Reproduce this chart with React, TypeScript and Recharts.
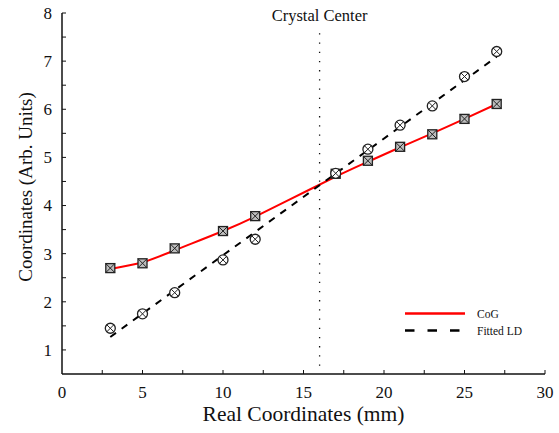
import React from 'react';
import { ComposedChart, Line, Scatter, XAxis, YAxis, ReferenceLine, Legend, Label } from 'recharts';

const SERIF = 'Liberation Serif, DejaVu Serif, serif';
const serifStyle = { fontFamily: SERIF };

// real coordinates (mm) of the scan points
const positions = [3, 5, 7, 10, 12, 17, 19, 21, 23, 25, 27];
// centre of gravity estimate
const cogValues = [2.7, 2.8, 3.11, 3.47, 3.78, 4.66, 4.93, 5.22, 5.48, 5.8, 6.11];
// fitted light distribution estimate
const ldValues = [1.45, 1.75, 2.19, 2.87, 3.3, 4.67, 5.17, 5.67, 6.07, 6.68, 7.2];
// smooth curve drawn through the CoG points
const curvePositions = [3, 5, 7, 10, 12, 14, 17, 19, 21, 23, 25, 27];
const curveValues = [2.68, 2.82, 3.07, 3.47, 3.77, 4.1, 4.6, 4.91, 5.21, 5.5, 5.8, 6.11];
// straight-line fit through the LD points
const fitPositions = [3, 27];
const fitValues = [1.27, 7.09];

const xTicks = [0, 2.5, 5, 7.5, 10, 12.5, 15, 17.5, 20, 22.5, 25, 27.5, 30];
const yTicks = [0.5, 1, 1.5, 2, 2.5, 3, 3.5, 4, 4.5, 5, 5.5, 6, 6.5, 7, 7.5, 8];
const crystalCenter = 16;
const seriesNames = ['CoG', 'Fitted LD'];

const cogData = positions.map((x, i) => ({ x, y: cogValues[i] }));
const ldData = positions.map((x, i) => ({ x, y: ldValues[i] }));
const curveData = curvePositions.map((x, i) => ({ x, y: curveValues[i] }));
const fitData = fitPositions.map((x, i) => ({ x, y: fitValues[i] }));

const XTick = (props: any) => {
  const { x, y, payload } = props;
  const v = payload.value;
  return (
    <g>
      {v > 0 && <line x1={x} y1={y} x2={x} y2={y - 4} stroke="#111" strokeWidth={1} />}
      {v % 5 === 0 && (
        <text x={x} y={y + 24} textAnchor="middle" fontSize={17} style={serifStyle} fill="#111">
          {v}
        </text>
      )}
    </g>
  );
};

const YTick = (props: any) => {
  const { x, y, payload } = props;
  const v = payload.value;
  return (
    <g>
      {v > 0.5 && <line x1={x} y1={y} x2={x + 4} y2={y} stroke="#111" strokeWidth={1} />}
      {Number.isInteger(v) && (
        <text x={x - 10} y={y} dy="0.35em" textAnchor="end" fontSize={17} style={serifStyle} fill="#111">
          {v}
        </text>
      )}
    </g>
  );
};

const SquareMark = (props: any) => {
  const { cx, cy } = props;
  const h = 4.5;
  return (
    <g>
      <rect x={cx - h} y={cy - h} width={2 * h} height={2 * h} fill="#bdbdbd" stroke="#222" strokeWidth={1.3} />
      <line x1={cx - h} y1={cy - h} x2={cx + h} y2={cy + h} stroke="#222" strokeWidth={1} />
      <line x1={cx - h} y1={cy + h} x2={cx + h} y2={cy - h} stroke="#222" strokeWidth={1} />
    </g>
  );
};

const CircleMark = (props: any) => {
  const { cx, cy } = props;
  const r = 5;
  const d = r * 0.7;
  return (
    <g>
      <circle cx={cx} cy={cy} r={r} fill="#fff" stroke="#222" strokeWidth={1.3} />
      <line x1={cx - d} y1={cy - d} x2={cx + d} y2={cy + d} stroke="#222" strokeWidth={1} />
      <line x1={cx - d} y1={cy + d} x2={cx + d} y2={cy - d} stroke="#222" strokeWidth={1} />
    </g>
  );
};

const XTitle = (props: any) => {
  const { viewBox } = props;
  return (
    <text x={viewBox.x + viewBox.width / 2} y={421} textAnchor="middle" fontSize={21.5} style={serifStyle} fill="#111">
      Real Coordinates (mm)
    </text>
  );
};

const YTitle = () => {
  const cy = 187;
  return (
    <text x={25} y={cy} dy="0.35em" textAnchor="middle" fontSize={19} style={serifStyle} fill="#111"
      transform={`rotate(-90, 25, ${cy})`}>
      Coordinates (Arb. Units)
    </text>
  );
};

const CenterTitle = (props: any) => {
  const { viewBox } = props;
  return (
    <text x={viewBox.x} y={viewBox.y - 11} textAnchor="middle" fontSize={16.5} style={serifStyle} fill="#111">
      Crystal Center
    </text>
  );
};

const LegendBox = () => (
  <div style={{ fontFamily: SERIF, fontSize: 11.5, color: '#111' }}>
    {seriesNames.map((name, i) => (
      <div key={name} style={{ display: 'flex', alignItems: 'center', height: 17 }}>
        <svg width={72} height={17}>
          {i === 0 ? (
            <line x1={0} y1={8.5} x2={60} y2={8.5} stroke="#ff0000" strokeWidth={2.5} />
          ) : (
            <line x1={0} y1={8.5} x2={58} y2={8.5} stroke="#000" strokeWidth={2.5} strokeDasharray="9.5 13" />
          )}
        </svg>
        <span>{name}</span>
      </div>
    ))}
  </div>
);

export default function App() {
  return (
    <div style={{ position: 'absolute', left: 0, top: 0, background: '#fff' }}>
      <ComposedChart width={559} height={433} margin={{ top: 13, right: 14, bottom: 9, left: 22 }}>
        <XAxis
          type="number"
          dataKey="x"
          domain={[0, 30]}
          ticks={xTicks}
          interval={0}
          height={50}
          tickSize={0}
          tickMargin={0}
          tick={<XTick />}
          axisLine={{ stroke: '#111', strokeWidth: 1.5 }}
          tickLine={false}
          allowDataOverflow
        >
          <Label content={<XTitle />} />
        </XAxis>
        <YAxis
          type="number"
          dataKey="y"
          domain={[0.5, 8]}
          ticks={yTicks}
          interval={0}
          width={40}
          tickSize={0}
          tickMargin={0}
          tick={<YTick />}
          axisLine={{ stroke: '#111', strokeWidth: 1.5 }}
          tickLine={false}
          allowDataOverflow
        >
          <Label content={<YTitle />} />
        </YAxis>
        <ReferenceLine
          segment={[{ x: crystalCenter, y: 0.67 }, { x: crystalCenter, y: 7.6 }]}
          stroke="#111"
          strokeWidth={1.3}
          strokeDasharray="1.3 7.9"
          ifOverflow="visible"
        >
          <Label content={<CenterTitle />} />
        </ReferenceLine>
        <Scatter name="CoG points" data={cogData} dataKey="y" shape={<SquareMark />} isAnimationActive={false} legendType="none" />
        <Scatter name="LD points" data={ldData} dataKey="y" shape={<CircleMark />} isAnimationActive={false} legendType="none" />
        <Line name={seriesNames[0]} data={curveData} dataKey="y" type="natural" stroke="#ff0000" strokeWidth={2}
          dot={false} activeDot={false} isAnimationActive={false} />
        <Line name={seriesNames[1]} data={fitData} dataKey="y" type="linear" stroke="#000" strokeWidth={2}
          strokeDasharray="7 7" dot={false} activeDot={false} isAnimationActive={false} />
        <Legend
          layout="vertical"
          align="center"
          verticalAlign="middle"
          content={<LegendBox />}
          wrapperStyle={{ left: 405, top: 305, width: 'auto' }}
        />
      </ComposedChart>
    </div>
  );
}
